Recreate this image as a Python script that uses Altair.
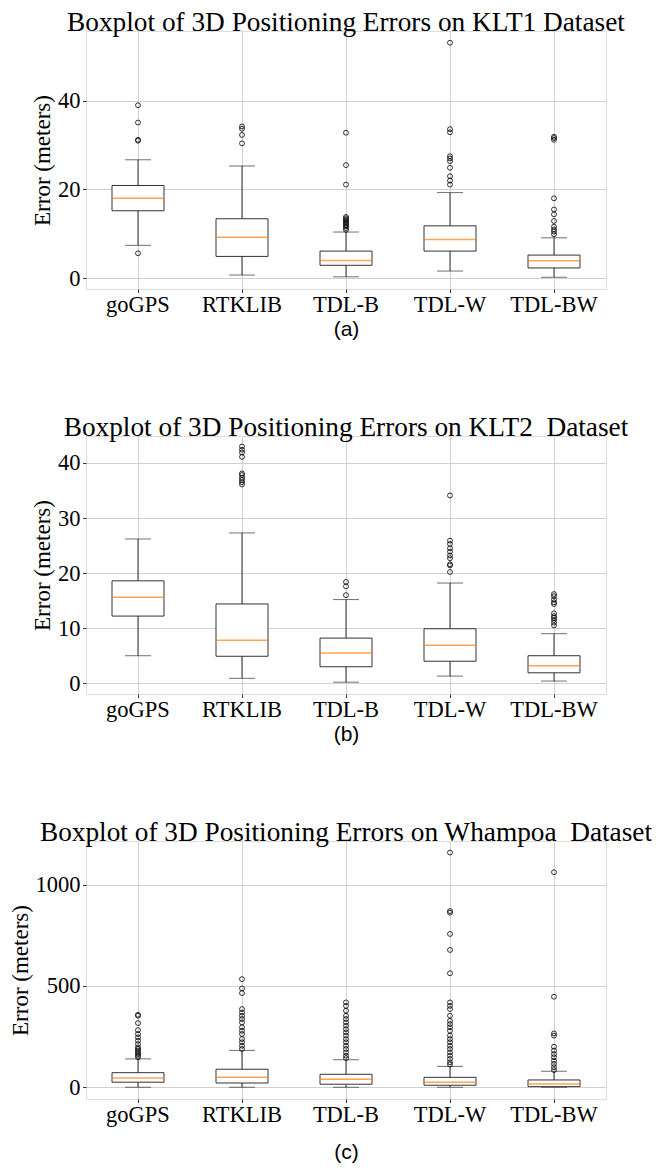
import altair as alt
import pandas as pd

METHODS = ["goGPS", "RTKLIB", "TDL-B", "TDL-W", "TDL-BW"]

# ---- KLT1 ----
KLT1_TITLE = "Boxplot of 3D Positioning Errors on KLT1 Dataset"
KLT1_LOW = [7.4, 0.7, 0.3, 1.6, 0.2]
KLT1_Q1 = [15.2, 4.9, 2.9, 6.1, 2.3]
KLT1_MED = [18.0, 9.2, 4.0, 8.7, 3.9]
KLT1_Q3 = [20.9, 13.4, 6.1, 11.8, 5.2]
KLT1_HIGH = [26.7, 25.3, 10.4, 19.3, 9.1]
KLT1_OUT = [
    [39.0, 35.1, 31.2, 31.0, 5.6],
    [34.2, 33.7, 32.3, 30.4],
    [32.8, 25.5, 21.1, 13.8, 13.5, 13.2, 12.9, 12.6, 12.3, 12.0, 11.7, 11.3, 10.9],
    [53.1, 33.6, 32.9, 27.5, 27.0, 26.4, 24.9, 23.0, 22.0, 21.1],
    [31.9, 31.6, 31.2, 18.0, 15.5, 14.4, 12.9, 11.6, 11.0, 10.5, 9.9],
]
KLT1_TICKS = [0, 20, 40]
KLT1_DOMAIN = [-2.45, 55.75]

# ---- KLT2 ----
KLT2_TITLE = "Boxplot of 3D Positioning Errors on KLT2\u00a0 Dataset"
KLT2_LOW = [5.0, 0.9, 0.2, 1.3, 0.4]
KLT2_Q1 = [12.2, 4.9, 3.0, 4.0, 1.9]
KLT2_MED = [15.6, 7.8, 5.5, 6.9, 3.2]
KLT2_Q3 = [18.6, 14.4, 8.2, 9.9, 5.0]
KLT2_HIGH = [26.2, 27.3, 15.2, 18.2, 9.0]
KLT2_OUT = [
    [],
    [43.0, 42.4, 41.9, 41.1, 38.1, 37.8, 37.3, 36.9, 36.5, 36.1],
    [18.4, 17.6, 16.0],
    [34.1, 25.9, 25.3, 24.5, 23.9, 23.2, 22.7, 21.6, 21.4, 20.2],
    [16.2, 15.8, 15.2, 14.7, 14.4, 12.7, 12.2, 11.9, 11.5, 11.0, 10.5],
]
KLT2_TICKS = [0, 10, 20, 30, 40]
KLT2_DOMAIN = [-1.95, 44.9]

# ---- Whampoa ----
WH_TITLE = "Boxplot of 3D Positioning Errors on Whampoa\u00a0 Dataset"
WH_LOW = [0, 0, 0, 0, 0]
WH_Q1 = [25, 21, 15, 10, 3]
WH_MED = [46, 49, 39, 25, 16]
WH_Q3 = [72, 89, 64, 49, 36]
WH_HIGH = [140, 182, 136, 103, 79]
WH_OUT = [
    [148, 156, 164, 172, 181, 189, 197, 213, 230, 246, 263, 282, 317, 353, 358],
    [189, 205, 222, 238, 263, 279, 296, 320, 337, 353, 369, 386, 465, 488, 534],
    [144, 156, 172, 189, 205, 222, 238, 255, 271, 287, 304, 320, 337, 353, 378, 402, 419],
    [112, 123, 140, 156, 172, 189, 205, 222, 238, 255, 279, 296, 312, 328, 353, 386,
     402, 419, 563, 678, 757, 862, 870, 1159],
    [85, 99, 115, 131, 148, 164, 181, 200, 255, 266, 447, 1062],
]
WH_TICKS = [0, 500, 1000]
WH_DOMAIN = [-58, 1216]

CAPTIONS = ["(a)", "(b)", "(c)"]

SERIF = "Liberation Serif"
SANS = "Liberation Sans"
FRAME = "#333333"
GRID = "#d0d0d0"
ORANGE = "#ff7f0e"
W, H = 520, 258


def panel(title, low, q1, med, q3, high, outs, ticks, domain, caption, cap_pad):
    summ = pd.DataFrame({"method": METHODS, "low": low, "q1": q1, "med": med,
                         "q3": q3, "high": high})
    rows = [(m, v) for m, vals in zip(METHODS, outs) for v in vals]
    out = pd.DataFrame(rows, columns=["method", "value"])

    xscale = alt.Scale(domain=METHODS, paddingInner=0.5, paddingOuter=0.25)
    x = alt.X("method:N", scale=xscale, sort=METHODS,
              axis=alt.Axis(title=caption, titleFont=SANS, titleFontSize=21,
                            titleFontWeight="normal", titleColor="black",
                            titlePadding=cap_pad, labelFont=SERIF, labelFontSize=22.5,
                            labelColor="black", labelAngle=0, labelPadding=1,
                            tickSize=3.5, tickColor=FRAME, domain=False,
                            grid=True, gridColor=GRID, gridWidth=1))
    yscale = alt.Scale(domain=domain, nice=False, zero=False)
    yaxis = alt.Axis(title="Error (meters)", titleFont=SERIF, titleFontSize=23,
                     titleFontWeight="normal", titleColor="black", titlePadding=3,
                     labelFont=SERIF, labelFontSize=22.5, labelColor="black",
                     labelPadding=2.5, tickSize=3.5, tickColor=FRAME, values=ticks,
                     format="d", domain=False, grid=True, gridColor=GRID, gridWidth=1)

    base = alt.Chart(summ)
    whisk = base.mark_rule(color=FRAME, strokeWidth=1).encode(
        x=x, y=alt.Y("low:Q", scale=yscale, axis=yaxis), y2="high:Q")
    cap_lo = base.mark_tick(color=FRAME, size=26, thickness=1, orient="horizontal").encode(
        x=x, y=alt.Y("low:Q", scale=yscale))
    cap_hi = base.mark_tick(color=FRAME, size=26, thickness=1, orient="horizontal").encode(
        x=x, y=alt.Y("high:Q", scale=yscale))
    box = base.mark_bar(fill="white", stroke=FRAME, strokeWidth=1).encode(
        x=x, y=alt.Y("q1:Q", scale=yscale), y2="q3:Q")
    median = base.mark_tick(color=ORANGE, size=52, thickness=1.5, orient="horizontal").encode(
        x=x, y=alt.Y("med:Q", scale=yscale))
    pts = alt.Chart(out).mark_point(shape="circle", filled=False, color="black",
                                    strokeWidth=0.8, size=24, opacity=1).encode(
        x=x, y=alt.Y("value:Q", scale=yscale))

    return alt.layer(whisk, cap_lo, cap_hi, box, median, pts).properties(
        width=W, height=H,
        title=alt.TitleParams(title, font=SERIF, fontSize=27.3, fontWeight="normal",
                              color="black", anchor="middle", frame="group", offset=-5))


p1 = panel(KLT1_TITLE, KLT1_LOW, KLT1_Q1, KLT1_MED, KLT1_Q3, KLT1_HIGH, KLT1_OUT,
           KLT1_TICKS, KLT1_DOMAIN, CAPTIONS[0], 2.5)
p2 = panel(KLT2_TITLE, KLT2_LOW, KLT2_Q1, KLT2_MED, KLT2_Q3, KLT2_HIGH, KLT2_OUT,
           KLT2_TICKS, KLT2_DOMAIN, CAPTIONS[1], 2.5)
p3 = panel(WH_TITLE, WH_LOW, WH_Q1, WH_MED, WH_Q3, WH_HIGH, WH_OUT,
           WH_TICKS, WH_DOMAIN, CAPTIONS[2], 15)

chart = alt.vconcat(p1, p2, p3, spacing=73).properties(padding=0).configure_view(
    stroke=FRAME, strokeWidth=1).configure(background="white")

chart.save("out.html", embed_options={"renderer": "svg", "actions": False})
